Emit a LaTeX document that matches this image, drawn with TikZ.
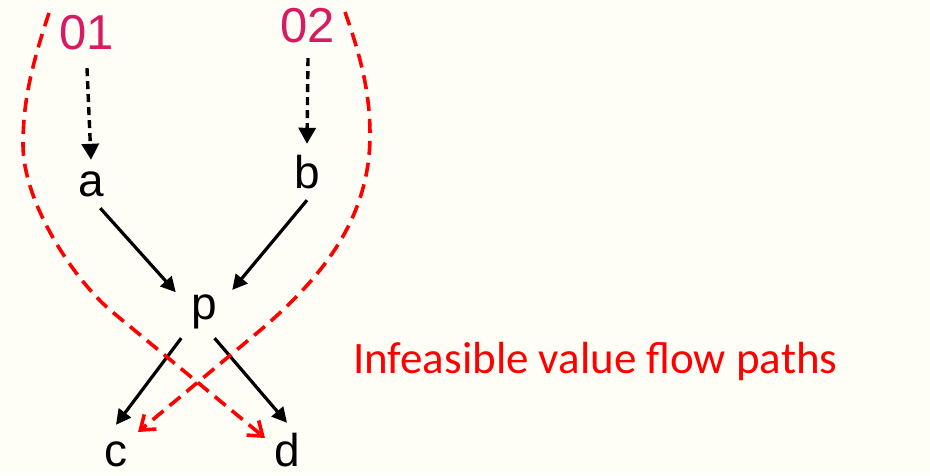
\documentclass[tikz,border=0pt]{standalone}
\usepackage{fontspec}
\setmainfont{Liberation Sans}
\newfontfamily\notefont{Carlito}
\usepackage{xcolor}
\usetikzlibrary{arrows.meta,calc}
\definecolor{bgcream}{HTML}{FEFEF6}
\definecolor{srcpink}{HTML}{D81B60}
\definecolor{infred}{HTML}{FF0000}
\tikzset{
  vlabel/.style={inner sep=0pt,font=\fontsize{46}{50}\selectfont},
  srclabel/.style={inner sep=0pt,text=srcpink,font=\fontsize{49}{52}\selectfont},
  farrow/.style={-{Triangle[length=15pt,width=15pt]},line width=3.2pt},
  sarrow/.style={-{Triangle[length=16pt,width=17pt]},line width=3.4pt,dash pattern=on 8pt off 5pt},
  ipath/.style={-{Straight Barb[length=13pt,width=19pt,line width=3.6pt]},line width=3.6pt,draw=infred,dash pattern=on 14pt off 8pt}
}

\begin{document}
\begin{tikzpicture}[x=1pt,y=1pt]
  \fill[bgcream] (0,0) rectangle (930,475);
  \useasboundingbox (0,0) rectangle (930,475);
  \node[srclabel,minimum height=70pt] (o1) at (87,442) {01};
  \node[srclabel,minimum height=64pt] (o2) at (308,449) {02};
  \node[vlabel,minimum height=48pt] (a) at (91,291) {a};
  \node[vlabel,minimum height=56pt] (b) at (307,303) {b};
  \node[vlabel,minimum width=56pt,minimum height=52pt] (p) at (204,163) {p};
  \node[vlabel,minimum height=58pt] (c) at (116,21) {c};
  \node[vlabel,minimum height=54pt] (d) at (287,25) {d};
  \node[anchor=base west,inner sep=0pt,text=infred,font=\notefont\fontsize{45}{50}\selectfont] (note) at (353,102) {Infeasible value flow paths};
  \draw[sarrow] (o1.south) -- (a.north);
  \draw[sarrow] (o2.south) -- (b.north);
  \draw[farrow] (a.-69) -- (p.145);
  \draw[farrow] (b.south) -- (p.38);
  \draw[farrow] (p.229) -- (c.north);
  \draw[farrow] (p.292) -- (d.north);
  % infeasible paths
  \coordinate (l0) at (49,462);
  \coordinate (l1) at (265,37);
  \coordinate (r0) at (345,463);
  \coordinate (r1) at (138,43);
  \draw[ipath] (l0) .. controls (30,405) and (23,370) .. (23,330)
    .. controls (23,275) and (70,200) .. (110,165) -- (l1);
  \draw[ipath] (r0) .. controls (362,415) and (370,380) .. (370,340)
    .. controls (370,255) and (320,195) .. (257,142) -- (r1);
\end{tikzpicture}
\end{document}
